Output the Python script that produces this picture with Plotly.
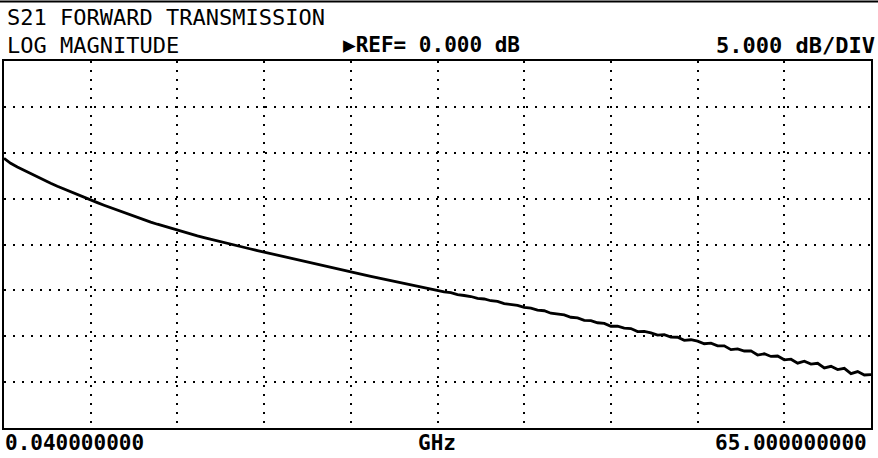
import numpy as np
import plotly.graph_objects as go

# Sweep settings (from the screen annotations)
f_start_ghz = 0.04
f_stop_ghz = 65.0
n_points = 131
ref_db = 0.0
db_per_div = 5.0

# S21 magnitude (dB)
s21_db = [
    -0.60, -1.15, -1.55, -1.92, -2.29, -2.68, -3.01, -3.33, -3.65, -3.96,
    -4.26, -4.57, -4.87, -5.17, -5.44, -5.72, -5.99, -6.26, -6.54, -6.81,
    -7.07, -7.32, -7.56, -7.79, -8.01, -8.23, -8.44, -8.65, -8.85, -9.05,
    -9.24, -9.43, -9.62, -9.80, -9.98, -10.15, -10.32, -10.49, -10.66, -10.83,
    -11.00, -11.17, -11.36, -11.53, -11.70, -11.86, -12.03, -12.19, -12.36, -12.52,
    -12.69, -12.85, -13.01, -13.16, -13.32, -13.47, -13.62, -13.77, -13.92, -14.07,
    -14.22, -14.41, -14.53, -14.70, -14.89, -14.99, -15.16, -15.25, -15.46, -15.56,
    -15.67, -15.88, -15.94, -16.13, -16.21, -16.45, -16.52, -16.64, -16.86, -16.94,
    -17.15, -17.22, -17.49, -17.55, -17.68, -17.93, -18.00, -18.27, -18.29, -18.53,
    -18.60, -18.91, -18.91, -19.11, -19.16, -19.49, -19.46, -19.63, -19.88, -19.83,
    -20.09, -20.11, -20.45, -20.38, -20.54, -20.82, -20.76, -21.05, -21.04, -21.46,
    -21.37, -21.61, -21.60, -22.05, -21.91, -22.20, -22.15, -22.57, -22.50, -22.93,
    -22.72, -23.04, -22.95, -23.45, -23.28, -23.63, -23.50, -24.07, -23.85, -24.22,
    -24.18,
]

freq_ghz = np.linspace(f_start_ghz, f_stop_ghz, n_points)

title_line1 = "S21 FORWARD TRANSMISSION"
title_line2 = "LOG MAGNITUDE"
ref_label = "▶REF= 0.000 dB"
scale_label = "5.000 dB/DIV"
start_label = "0.040000000"
stop_label = "65.000000000"
unit_label = "GHz"

FONT = "DejaVu Sans Mono"

fig = go.Figure()
fig.add_trace(go.Scatter(
    x=freq_ghz, y=s21_db, mode="lines",
    line=dict(color="black", width=2.8),
    hoverinfo="skip", showlegend=False,
))

x_div = (f_stop_ghz - f_start_ghz) / 10
fig.update_xaxes(
    range=[f_start_ghz, f_stop_ghz], tick0=f_start_ghz, dtick=x_div,
    showticklabels=False, ticks="",
    showgrid=True, gridcolor="black", gridwidth=1.6, griddash="2px,7px",
    showline=True, linecolor="black", linewidth=2, mirror=True,
    zeroline=False,
)
fig.update_yaxes(
    range=[ref_db - 6 * db_per_div, ref_db + 2 * db_per_div],
    tick0=ref_db, dtick=db_per_div,
    showticklabels=False, ticks="",
    showgrid=True, gridcolor="black", gridwidth=1.6, griddash="2px,7px",
    showline=True, linecolor="black", linewidth=2, mirror=True,
    zeroline=False,
)

W, H = 878, 458
L, R, T, B = 4, 7, 61, 30
ph = H - T - B
pw = W - L - R


def px(x):
    return (x - L) / pw


def py(y):
    return (H - B - y) / ph


ann = []
ann.append(dict(text=title_line1, x=px(5), y=py(17), xanchor="left", yanchor="middle",
                font=dict(family=FONT, size=22, color="black")))
ann.append(dict(text=title_line2, x=px(5), y=py(45), xanchor="left", yanchor="middle",
                font=dict(family=FONT, size=22, color="black")))
ann.append(dict(text="<b>" + ref_label + "</b>", x=px(341), y=py(45), xanchor="left", yanchor="middle",
                font=dict(family=FONT, size=21, color="black")))
ann.append(dict(text="<b>" + scale_label + "</b>", x=px(877), y=py(45), xanchor="right", yanchor="middle",
                font=dict(family=FONT, size=22, color="black")))
ann.append(dict(text="<b>" + start_label + "</b>", x=px(3), y=py(443), xanchor="left", yanchor="middle",
                font=dict(family=FONT, size=21, color="black")))
ann.append(dict(text="<b>" + unit_label + "</b>", x=px(437), y=py(443), xanchor="center", yanchor="middle",
                font=dict(family=FONT, size=21, color="black")))
ann.append(dict(text="<b>" + stop_label + "</b>", x=px(869), y=py(443), xanchor="right", yanchor="middle",
                font=dict(family=FONT, size=21, color="black")))
for a in ann:
    a.update(xref="paper", yref="paper", showarrow=False)

fig.update_layout(
    width=W, height=H,
    margin=dict(l=L, r=R, t=T, b=B, pad=0),
    paper_bgcolor="white", plot_bgcolor="white",
    annotations=ann,
    shapes=[dict(type="line", xref="paper", yref="paper",
                 x0=px(0), x1=px(W), y0=py(1.5), y1=py(1.5),
                 line=dict(color="black", width=2))],
)

fig.write_html("out.html", config={"displayModeBar": False},
               post_script="document.body.style.margin='0';")
